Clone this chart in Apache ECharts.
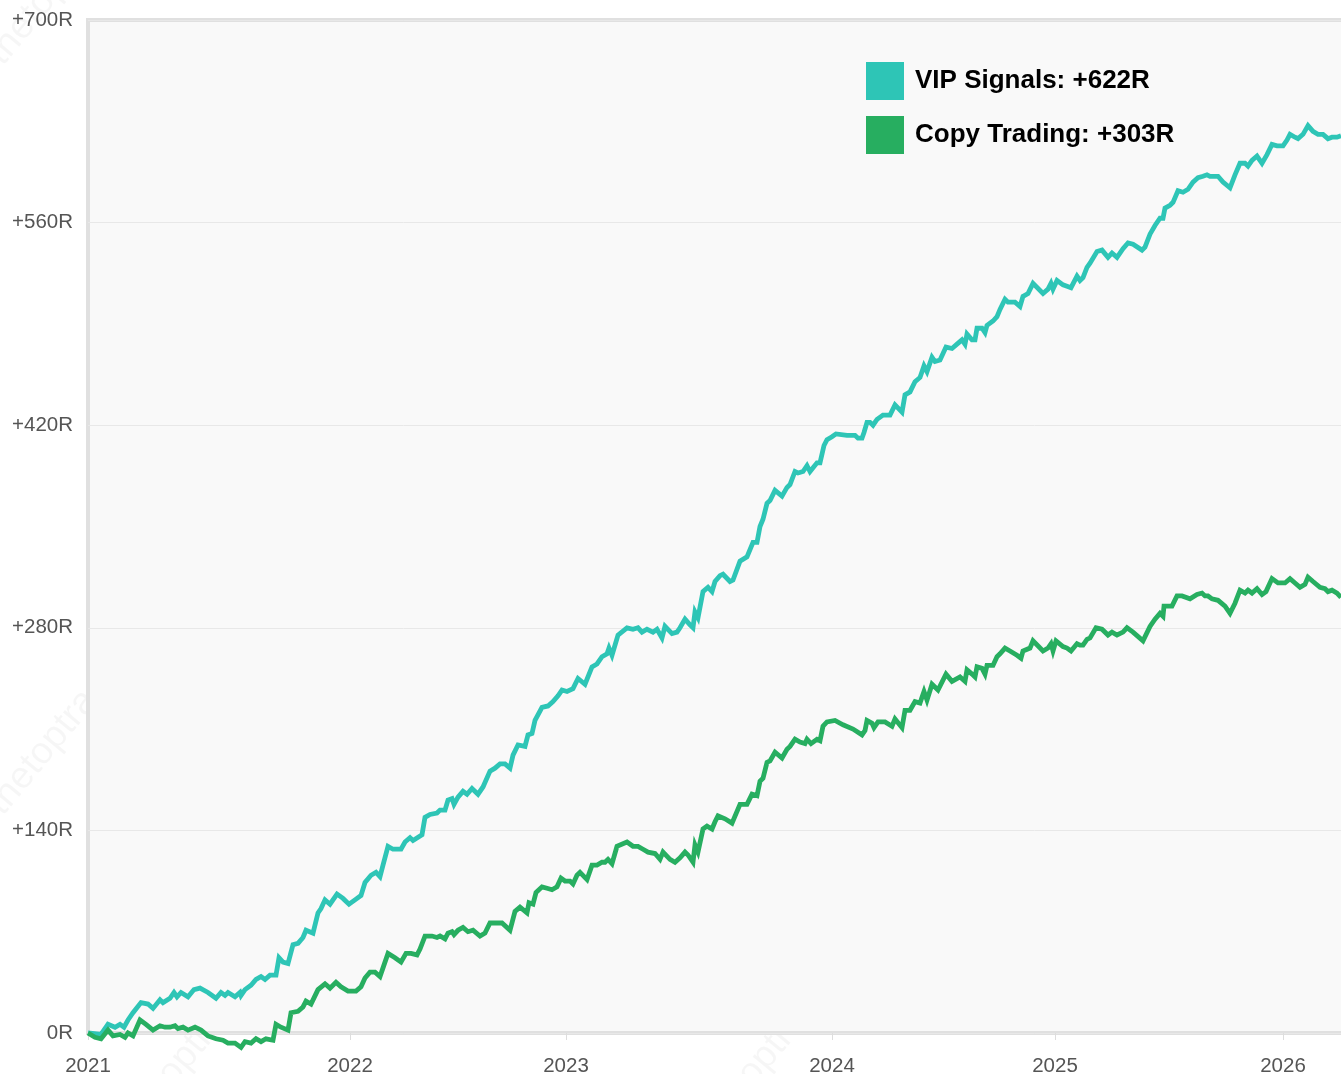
<!DOCTYPE html>
<html>
<head>
<meta charset="utf-8">
<title>VIP Signals vs Copy Trading</title>
<script src="https://cdn.jsdelivr.net/npm/echarts@6/dist/echarts.min.js"></script>
<style>
  html, body { margin: 0; padding: 0; background: #fff; overflow: hidden; }
  /* plot runs past the right edge of the window, as in the original */
  #chart { width: 1350px; height: 1074px; }
</style>
</head>
<body>
<div id="chart"></div>
<script>
// x = trade week index, y = cumulative R
var yearTicks = [0, 52.4, 95.6, 148.8, 193.4, 239];
var yearLabels = ['2021', '2022', '2023', '2024', '2025', '2026'];

var vipWeek = [0,2.6,4,5.4,6.4,7.2,8,9,10.6,12,13,14.4,15,16.4,17.2,17.8,18.6,20,21.2,22.4,24,25.6,26.6,27.4,28,29.4,30.4,30.6,31.4,32.6,33.6,34.6,35.4,36.4,37.6,38.2,39,40,41,42,43,43.6,45,46,46.6,47.4,48.4,49.8,51,52.2,53.4,54.6,55.4,56.6,57.6,58.4,59,60,61,62.6,63.4,64.4,65,66.8,67.4,68.4,69.8,70.4,71.4,72,72.8,73.2,74,75,75.8,76.8,78,79,80.4,81.4,82.4,83.4,84.4,85,86,87.4,88,88.8,89.4,90.8,92,93,94,94.8,95.8,96.2,97,98,99.4,100.8,101.8,102.8,103.8,104.2,104.8,106,107.8,109,110,110.8,111.8,113,113.8,114.8,115.4,116.8,117.8,118.4,119.4,120.4,121,121.4,122,123,124,124.8,125.4,126.4,127,128.4,129,130.4,131.8,133,133.8,134.4,135,135.8,136.4,137.4,138.8,139.8,140.4,141.4,142,143,143.8,144.4,145.8,146.4,147.2,147.8,148.8,149.6,151.8,153.4,154,154.8,155.2,155.8,156.4,157,157.8,159,160.4,161.4,162.8,163.4,164.4,165.4,166.4,167.2,167.8,168.8,169.4,170.4,171.6,172.8,173.8,174.8,175.4,175.8,176.8,177.4,177.8,178.8,179.4,179.8,181,181.8,182.4,183.4,184,185.4,186.4,187,188,189,191,192,192.6,193,193.8,195,195.8,196.6,197.8,198.4,199,199.8,200.4,201.8,202.8,204,204.8,205.8,207,208,209,210.8,211.4,212.4,213.4,214.4,215,215.4,216.4,217,218,219,220,221,222,223,223.8,224.4,225.4,226,227,228.4,229.4,230.4,231.4,232,232.8,233.8,234.8,235.8,236.8,237.8,239,239.8,240.4,241.4,242,243,244,245,246,247,248,248.8,249.8,250.6];
var vipR = [0,-1,6,4,6,4,9,14,21,20,17,23,21,24,28,25,28,25,30,31,28,24,28,26,28,25,28,26,30,33,37,39,37,40,40,52,49,48,61,62,66,71,69,83,86,92,89,96,93,89,92,95,104,109,111,108,116,129,127,127,132,135,133,137,149,151,152,154,154,161,162,158,163,167,165,169,165,170,181,183,186,186,183,192,199,198,206,207,216,225,226,229,233,237,236,237,238,245,241,253,255,260,262,266,261,275,280,279,280,277,279,277,279,273,281,276,277,280,286,282,280,291,287,305,308,305,312,316,317,312,313,326,329,339,339,350,355,366,368,375,371,377,379,388,387,388,392,388,394,394,406,410,412,414,413,413,411,411,415,422,422,420,424,427,427,434,429,441,443,450,453,461,457,467,464,465,474,473,476,479,476,483,479,479,487,487,484,489,492,495,500,507,505,505,502,509,511,518,511,514,518,514,520,517,516,515,523,520,522,529,532,540,541,536,539,536,542,546,545,541,543,552,558,563,563,570,572,574,582,581,583,588,591,592,593,592,592,592,588,584,593,601,601,599,603,606,601,607,614,613,613,617,621,619,618,621,627,623,621,621,618,619,619,620];

var copyWeek = [0,1.4,2.6,4,5,6.4,7.4,8,9,10.4,11.6,13,14.4,15.4,16.4,17.4,18,19,20,21.4,22.6,24,25.6,27,28,29.4,30.6,31.4,32.6,33.6,34.6,35.6,37,37.6,38.6,40,40.6,42,43,43.6,44.6,46,47.4,48.4,49.6,50.6,52,53.6,54.6,55.4,56.4,57.4,58.4,59,60,61.4,62.6,63.6,64.6,65.8,66.4,67.4,68.8,69.8,70.4,71.4,72,72.8,73.2,74,75,76,77,78.4,79.4,80.4,81.8,82.8,84.4,85.4,86.4,87.8,88.2,89,89.6,90.8,91.8,92.8,93.8,94.6,95.4,96.4,97,97.8,98.4,99.8,100.8,101.8,102.8,103.4,104,104.8,105.8,107.8,109,110,111,112,113.4,114.4,115,116.4,117.4,118.4,119.4,120,121,121.4,122,123,123.8,124.8,125.4,126,127.4,128.8,130.4,131.8,132.8,133.8,134.4,135,135.8,136.4,137.4,138.8,139.8,140.4,141.4,142.4,143.4,143.8,144.6,145.8,146.4,147,147.8,149.4,151,153,154.8,155.4,155.8,156.8,157.2,158,159.4,160.8,161.4,162.8,163.4,164.4,165.4,166.4,167.2,167.8,168.8,170,171.6,172.8,174.4,175.4,175.8,176.8,177.4,177.8,178.8,179.4,179.8,181,181.8,182.4,183.4,184.4,185.8,186.6,187,188.4,189,191,192,192.6,193,193.6,195,195.8,196.6,197.8,198.4,199,199.8,200.4,201.6,202.8,204,204.8,205.8,207,207.8,209,211,211.4,212.4,213.4,214.4,215,215.2,216.8,217.8,218.8,220.4,221.8,222.8,223.4,224,224.8,226,227.4,228.4,229.4,230.4,231.4,232,232.8,233.8,234.8,235.6,236.8,238,239.4,240.4,241.4,242.4,243.4,244,245,246.4,247.4,248,248.8,249.8,250.6];
var copyR = [0,-3,-4,2,-2,-1,-3,0,-2,9,6,2,5,4,4,5,3,4,2,4,2,-2,-4,-5,-7,-7,-10,-6,-7,-4,-6,-4,-5,6,4,2,14,15,18,22,20,30,34,31,35,32,29,29,32,38,42,42,39,45,55,52,49,55,55,54,58,67,67,66,67,65,69,70,68,71,73,70,71,67,69,76,76,76,71,84,87,83,90,89,97,101,100,99,101,107,105,105,103,109,111,106,116,116,118,118,120,117,129,132,129,129,127,125,124,120,125,120,118,121,125,123,118,130,125,141,143,141,146,150,148,145,158,158,165,164,174,176,187,188,194,190,196,198,203,201,200,203,200,203,202,212,215,216,213,210,206,209,216,214,211,215,215,212,217,211,223,223,229,228,236,230,241,237,248,243,246,243,251,248,246,253,252,248,254,254,260,262,266,264,261,259,264,266,271,264,266,269,264,271,267,266,264,269,268,268,272,273,280,279,275,277,275,277,280,277,271,272,281,286,290,288,295,295,302,302,300,303,304,302,302,300,299,295,290,297,306,304,306,304,307,303,305,314,311,311,314,311,308,310,315,312,308,307,305,306,304,301];

var vipName = 'VIP Signals: +622R';
var copyName = 'Copy Trading: +303R';

function pairs(xs, ys) {
  return xs.map(function (x, i) { return [x, ys[i]]; });
}

var chart = echarts.init(document.getElementById('chart'), null, { renderer: 'canvas' });

var wmStyle = { text: 'thetoptrader', fill: 'rgba(0,0,0,0.035)', font: '38px "Liberation Sans", Arial, sans-serif' };

var option = {
  animation: false,
  backgroundColor: '#ffffff',
  textStyle: { fontFamily: '"Liberation Sans", Arial, sans-serif' },
  graphic: [
    { type: 'text', left: -20, top: 640, rotation: Math.PI * 0.28, z: -10, style: wmStyle },
    { type: 'text', left: 110, top: 960, rotation: Math.PI * 0.28, z: -10, style: wmStyle },
    { type: 'text', left: 690, top: 960, rotation: Math.PI * 0.28, z: -10, style: wmStyle },
    { type: 'text', left: -20, top: -110, rotation: Math.PI * 0.28, z: -10, style: wmStyle }
  ],
  grid: {
    left: 88,
    top: 20,
    right: 0,
    bottom: 41,
    outerBoundsMode: 'none',
    containLabel: false,
    show: true,
    backgroundColor: '#f9f9f9',
    borderColor: '#e0e0e0',
    borderWidth: 4
  },
  legend: {
    orient: 'vertical',
    left: 866,
    top: 62,
    padding: 0,
    itemWidth: 38,
    itemHeight: 38,
    itemGap: 16,
    icon: 'rect',
    selectedMode: false,
    textStyle: {
      fontSize: 26,
      fontWeight: 'bold',
      color: '#000',
      padding: [0, 0, 0, 6]
    },
    data: [vipName, copyName]
  },
  xAxis: {
    type: 'value',
    min: 0,
    max: 252.4,
    axisLine: { show: false },
    splitLine: { show: false },
    axisTick: {
      show: true,
      customValues: yearTicks,
      length: 7,
      lineStyle: { color: '#dddddd', width: 1 }
    },
    axisLabel: {
      customValues: yearTicks,
      margin: 23,
      fontSize: 20.5,
      color: '#555',
      formatter: function (v) {
        var i = yearTicks.indexOf(v);
        return i >= 0 ? yearLabels[i] : '';
      }
    }
  },
  yAxis: {
    type: 'value',
    min: 0,
    max: 700,
    interval: 140,
    axisLine: { show: false },
    axisTick: { show: false },
    splitLine: { lineStyle: { color: '#e8e8e8', width: 1 } },
    axisLabel: {
      margin: 15,
      fontSize: 20.5,
      color: '#555',
      padding: [4, 0, 0, 0],
      formatter: function (v) { return v === 0 ? '0R' : '+' + v + 'R'; }
    }
  },
  series: [
    {
      name: vipName,
      type: 'line',
      data: pairs(vipWeek, vipR),
      color: '#2ec5b6',
      showSymbol: false,
      clip: false,
      lineStyle: { width: 4.8, join: 'miter', color: '#2ec5b6' },
      z: 3
    },
    {
      name: copyName,
      type: 'line',
      data: pairs(copyWeek, copyR),
      color: '#27ae60',
      showSymbol: false,
      clip: false,
      lineStyle: { width: 4.8, join: 'miter', color: '#27ae60' },
      z: 3
    }
  ]
};

chart.setOption(option);
</script>
</body>
</html>
